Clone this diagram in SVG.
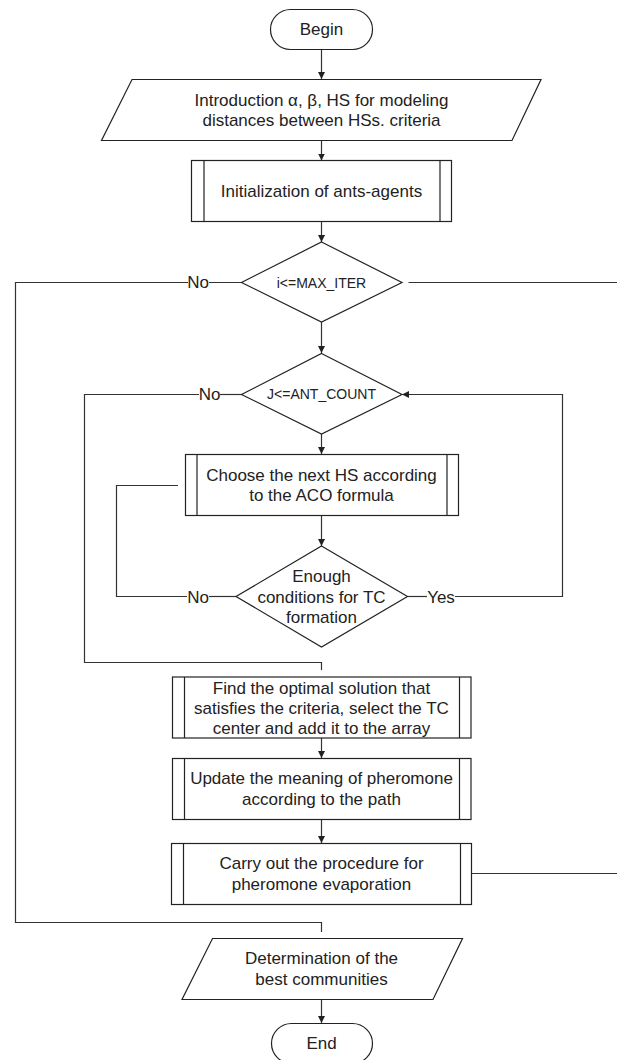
<svg xmlns="http://www.w3.org/2000/svg" width="617" height="1060" viewBox="0 0 617 1060">
<defs>
<marker id="arr" markerWidth="8" markerHeight="8" refX="7" refY="3.5" orient="auto" markerUnits="userSpaceOnUse">
<path d="M0,0 L7,3.5 L0,7 Z" fill="#222"/>
</marker>
<style>
.s{fill:#fff;stroke:#222;stroke-width:1.2}
.l{fill:none;stroke:#333;stroke-width:1.2}
.t{font-family:"Liberation Sans",Arial,sans-serif;font-size:17px;fill:#222;text-anchor:middle}
.ts{font-family:"Liberation Sans",Arial,sans-serif;font-size:14px;fill:#222;text-anchor:middle}
</style>
</defs>
<rect width="617" height="1060" fill="#fff"/>
<g id="connectors">
<path class="l" d="M321.5,49.5 V79" marker-end="url(#arr)"/>
<path class="l" d="M321.5,140.5 V160.5" marker-end="url(#arr)"/>
<path class="l" d="M321.5,221.5 V242" marker-end="url(#arr)"/>
<path class="l" d="M321.5,322 V353" marker-end="url(#arr)"/>
<path class="l" d="M321.5,434 V454" marker-end="url(#arr)"/>
<path class="l" d="M321.5,515.5 V546" marker-end="url(#arr)"/>
<path class="l" d="M321.5,738 V758" marker-end="url(#arr)"/>
<path class="l" d="M321.5,819.5 V843" marker-end="url(#arr)"/>
<path class="l" d="M321.5,999.5 V1023" marker-end="url(#arr)"/>
<path class="l" d="M188,282.5 H15.5 V922.5 H321.5 V932"/>
<path class="l" d="M209,282.5 H241.5"/>
<path class="l" d="M408.5,282.5 H617"/>
<path class="l" d="M199,394.5 H84.5 V662.5 H321.5 V670"/>
<path class="l" d="M220,394.5 H241.5"/>
<path class="l" d="M455,596.5 H562.5 V394.5 H402" marker-end="url(#arr)"/>
<path class="l" d="M407.5,596.5 H427"/>
<path class="l" d="M178,485.5 H116.5 V596.5 H187"/>
<path class="l" d="M209,596.5 H236"/>
<path class="l" d="M471.5,873.5 H617"/>
<text class="t" x="198" y="288">No</text>
<text class="t" x="209.5" y="400">No</text>
<text class="t" x="198" y="602.5">No</text>
<text class="t" x="441" y="602.5">Yes</text>
</g>
<g id="begin">
<rect class="s" x="270.5" y="9.5" width="102" height="40" rx="20"/>
<text class="t" x="321.5" y="35">Begin</text>
</g>
<g id="input">
<polygon class="s" points="132,79.5 541,79.5 512,140.5 101.5,140.5"/>
<text class="t" x="321.5" y="106">Introduction α, β, HS for modeling</text>
<text class="t" x="321.5" y="126">distances between HSs. criteria</text>
</g>
<g id="init">
<rect class="s" x="191.5" y="160.5" width="260" height="61"/>
<path class="s" d="M204,160.5 V221.5 M440,160.5 V221.5"/>
<text class="t" x="321.5" y="197">Initialization of ants-agents</text>
</g>
<g id="cond-iter">
<polygon class="s" points="321.5,242 402,282.5 321.5,322 241.5,282.5"/>
<text class="ts" x="321.5" y="287.5">i&lt;=MAX_ITER</text>
</g>
<g id="cond-ant">
<polygon class="s" points="321.5,353.5 402,394.5 321.5,434 241.5,394.5"/>
<text class="ts" x="321.5" y="399">J&lt;=ANT_COUNT</text>
</g>
<g id="choose">
<rect class="s" x="185.5" y="454.5" width="273" height="61"/>
<path class="s" d="M197,454.5 V515.5 M447,454.5 V515.5"/>
<text class="t" x="321.5" y="480.5">Choose the next HS according</text>
<text class="t" x="321.5" y="501">to the ACO formula</text>
</g>
<g id="cond-tc">
<polygon class="s" points="321.5,546 407.5,596.5 321.5,647 236,596.5"/>
<text class="t" x="321.5" y="582">Enough</text>
<text class="t" x="321.5" y="602.5">conditions for TC</text>
<text class="t" x="321.5" y="622.5">formation</text>
</g>
<g id="find">
<rect class="s" x="172.5" y="677" width="298.5" height="61"/>
<path class="s" d="M184.5,677 V738 M459.5,677 V738"/>
<text class="t" x="321.5" y="693.5">Find the optimal solution that</text>
<text class="t" x="321.5" y="714">satisfies the criteria, select the TC</text>
<text class="t" x="321.5" y="734">center and add it to the array</text>
</g>
<g id="update">
<rect class="s" x="172.5" y="758.5" width="298.5" height="61"/>
<path class="s" d="M184.5,758.5 V819.5 M459.5,758.5 V819.5"/>
<text class="t" x="321.5" y="784">Update the meaning of pheromone</text>
<text class="t" x="321.5" y="805">according to the path</text>
</g>
<g id="evaporate">
<rect class="s" x="171.5" y="843.5" width="300" height="61"/>
<path class="s" d="M183.5,843.5 V904.5 M460.5,843.5 V904.5"/>
<text class="t" x="321.5" y="869">Carry out the procedure for</text>
<text class="t" x="321.5" y="890">pheromone evaporation</text>
</g>
<g id="output">
<polygon class="s" points="212.5,938.5 462.5,938.5 433,999.5 182,999.5"/>
<text class="t" x="321.5" y="964">Determination of the</text>
<text class="t" x="321.5" y="985">best communities</text>
</g>
<g id="end">
<rect class="s" x="271.5" y="1023.5" width="101" height="40" rx="20"/>
<text class="t" x="321.5" y="1049">End</text>
</g>
</svg>
